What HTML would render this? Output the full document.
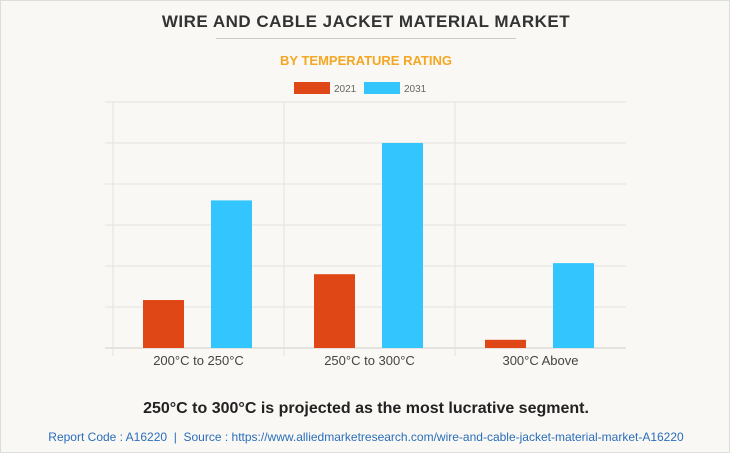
<!DOCTYPE html>
<html><head><meta charset="utf-8"><style>
body{margin:0;width:730px;height:453px;background:#fff;font-family:"Liberation Sans",sans-serif;overflow:hidden}
#card{position:absolute;left:0;top:0;width:728px;height:451px;border:1px solid #ddd;background:#f9f8f4}
.t{position:absolute;left:0;width:730px;text-align:center}
</style></head><body>
<div id="card">
<div class="t" style="top:11px;font-size:17px;font-weight:bold;color:#333;letter-spacing:0.5px">WIRE AND CABLE JACKET MATERIAL MARKET</div>
<div style="position:absolute;left:215px;top:37px;width:300px;border-top:1px solid #ccc"></div>
<div class="t" style="top:52px;font-size:13px;font-weight:bold;color:#f5a623">BY TEMPERATURE RATING</div>
<svg width="730" height="453" style="position:absolute;left:0;top:0" id="svg"></svg>
<div class="t" style="top:399px;font-size:16px;font-weight:bold;color:#222">250°C to 300°C is projected as the most lucrative segment.</div>
<div class="t" style="top:429px;font-size:12px;color:#2a6ebb">Report Code : A16220 &nbsp;|&nbsp; Source : https://www.alliedmarketresearch.com/wire-and-cable-jacket-material-market-A16220</div>
</div>
<script>
const categories=["200°C to 250°C","250°C to 300°C","300°C Above"];
const values2021=[1.17,1.8,0.2];
const values2031=[3.6,5.0,2.07];
const seriesNames=["2021","2031"];
const ticks=[0,1,2,3,4,5,6];
const svg=document.getElementById('svg');const NS="http://www.w3.org/2000/svg";
const x0=112,x1=625,y0=347,yTop=101,yMax=6;
const y=v=>y0-(y0-yTop)*v/yMax;
const cw=(x1-x0)/categories.length;
function el(t,a){const e=document.createElementNS(NS,t);for(const k in a)e.setAttribute(k,a[k]);svg.appendChild(e);return e;}
ticks.forEach(t=>{const l=el('line',{x1:104,x2:x1,y1:y(t),y2:y(t),stroke:t?'#e4e2dc':'#d0cec8','stroke-width':1});

});
for(let i=0;i<=categories.length-1;i++){const x=x0+i*cw;const l=el('line',{x1:x,x2:x,y1:yTop,y2:y0+8,stroke:'#e4e2dc'});

}
categories.forEach((c,i)=>{const gx=x0+i*cw;
const b1=el('rect',{x:gx+30,y:y(values2021[i]),width:41,height:y0-y(values2021[i]),fill:'#e04716'});


const b2=el('rect',{x:gx+98,y:y(values2031[i]),width:41,height:y0-y(values2031[i]),fill:'#33c5fd'});


const t=el('text',{x:gx+cw/2,y:364,'text-anchor':'middle','font-size':13,fill:'#444','font-family':'Liberation Sans'});t.textContent=c;

});
const lc=['#e04716','#33c5fd'],lx=[293,363];
seriesNames.forEach((s,i)=>{const r=el('rect',{x:lx[i],y:81,width:36,height:12,fill:lc[i]});


const t=el('text',{x:lx[i]+40,y:91,'font-size':10,fill:'#666','font-family':'Liberation Sans'});t.textContent=s;

});
</script>
</body></html>
